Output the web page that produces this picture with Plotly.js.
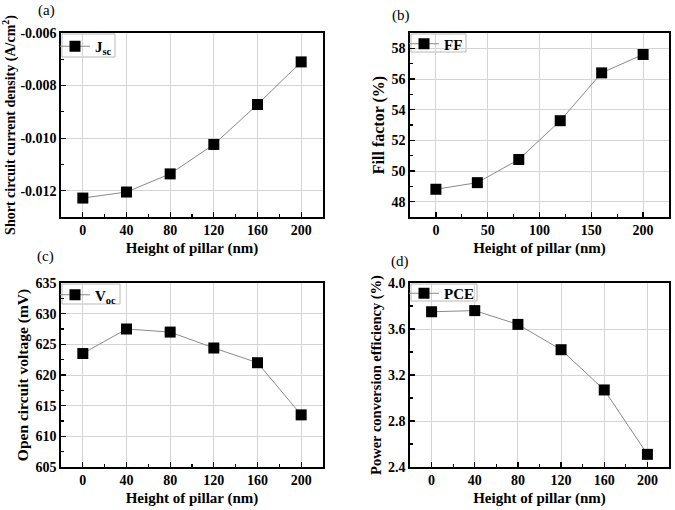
<!DOCTYPE html>
<html><head><meta charset="utf-8">
<script src="https://cdn.plot.ly/plotly-3.0.1.min.js"></script>
<style>html,body{margin:0;padding:0;background:#fff}#chart{width:675px;height:510px}</style>
</head><body><div id="chart"></div>
<script>
const heights = [0, 40, 80, 120, 160, 200];
const jsc = [-0.01228, -0.01205, -0.01136, -0.01024, -0.00872, -0.0071];
const ff = [48.81, 49.24, 50.75, 53.28, 56.4, 57.6];
const voc = [623.5, 627.5, 627.0, 624.4, 622.0, 613.5];
const pce = [3.75, 3.76, 3.64, 3.42, 3.07, 2.51];
const jscTickVals = [-0.012, -0.010, -0.008, -0.006];
const jscTickText = ['-0.012', '-0.010', '-0.008', '-0.006'];
const seriesNames = ['<b>J<sub>sc</sub></b>', '<b>FF</b>', '<b>V<sub>oc</sub></b>', '<b>PCE</b>'];
const panelLabels = ['(a)', '(b)', '(c)', '(d)'];
const xTitle = 'Height of pillar (nm)';
const yTitles = ['Short circuit current density (A/cm<sup>2</sup>)', 'Fill factor (%)', 'Open circuit voltage (mV)', 'Power conversion efficiency (%)'];

const FONT = 'Liberation Serif';
const W = 675, H = 510;
const px = v => v / W, py = v => 1 - v / H;
const boxes = [
  {x0: 61, x1: 323, y0: 33, y1: 217},
  {x0: 410, x1: 669, y0: 33, y1: 217},
  {x0: 61, x1: 323, y0: 283, y1: 467},
  {x0: 410, x1: 669, y0: 283, y1: 467}
];
const xRanges = [[-20, 220], [-25, 225], [-20, 220], [-20, 220]];
const xD = [40, 50, 40, 40];
const yRanges = [[-0.013, -0.006], [47, 59], [605, 635], [2.4, 4.0]];
const yD = [0.002, 2, 5, 0.4];
const yT0 = [-0.012, 48, 605, 2.4];
const yFmt = ['.3f', 'd', 'd', '.1f'];
const yTitleSize = [14, 16, 15.5, 14.5];
const legBox = [ {w: 53, h: 23}, {w: 55, h: 18}, {w: 58, h: 20}, {w: 66, h: 17} ];
const labelPos = [[36, 10], [390, 15.5], [35, 256], [389, 261]];
const data = [jsc, ff, voc, pce];

const traces = [];
const layout = {
  width: W, height: H, margin: {l: 0, r: 0, t: 0, b: 0},
  paper_bgcolor: '#fff', plot_bgcolor: '#fff',
  font: {family: FONT, color: '#000'},
  showlegend: true, annotations: [], shapes: []
};
data.forEach((ys, i) => {
  const n = i + 1;
  const s = n === 1 ? '' : String(n);
  const b = boxes[i];
  traces.push({
    x: heights, y: ys, type: 'scatter', mode: 'lines+markers',
    name: seriesNames[i], xaxis: 'x' + s, yaxis: 'y' + s,
    legend: 'legend' + s,
    line: {color: '#8a8a8a', width: 1},
    marker: {symbol: 'square', size: 11, color: '#000'}
  });
  const common = {
    showline: true, linecolor: '#000', linewidth: 1.6, mirror: true,
    showgrid: true, gridcolor: '#d4d4d4', gridwidth: 1,
    ticks: 'inside', ticklen: 5, tickwidth: 1.2, tickcolor: '#000',
    tickfont: {family: FONT, size: 14, weight: 'bold', color: '#000'},
    zeroline: false, fixedrange: true, layer: 'above traces'
  };
  layout['xaxis' + s] = Object.assign({}, common, {
    domain: [px(b.x0), px(b.x1)], anchor: 'y' + s,
    range: xRanges[i], dtick: xD[i], tick0: 0,
    minor: {ticks: 'inside', ticklen: 3, dtick: xD[i] / 2, tick0: 0, tickcolor: '#000', showgrid: false},
    title: {text: xTitle, font: {family: FONT, size: 15, weight: 'bold'}, standoff: 5}
  });
  const ya = Object.assign({}, common, {
    domain: [py(b.y1), py(b.y0)], anchor: 'x' + s,
    range: yRanges[i], dtick: yD[i], tick0: yT0[i], tickformat: yFmt[i],
    minor: {ticks: 'inside', ticklen: 3, dtick: yD[i] / 2, tick0: yT0[i], tickcolor: '#000', showgrid: false},
    title: {text: yTitles[i], font: {family: FONT, size: yTitleSize[i], weight: 'bold'}, standoff: 3}
  });
  if (i === 0) { ya.tickmode = 'array'; ya.tickvals = jscTickVals; ya.ticktext = jscTickText; }
  layout['yaxis' + s] = ya;
  const lb = legBox[i];
  const bl = b.x0 + 1, bt = b.y0 + 1;
  layout.shapes.push({
    type: 'rect', xref: 'paper', yref: 'paper', layer: 'between',
    x0: px(bl), x1: px(bl + lb.w), y0: py(bt + lb.h), y1: py(bt),
    fillcolor: '#fff', line: {color: '#b8b8b8', width: 1}
  });
  const markerX = bl + 13;
  const centerY = bt + lb.h / 2;
  layout['legend' + s] = {
    x: px(markerX - 20), y: py(centerY - 15.5), xanchor: 'left', yanchor: 'top',
    bgcolor: 'rgba(0,0,0,0)', borderwidth: 0,
    font: {family: FONT, size: 15, color: '#000'}, itemwidth: 30,
    tracegroupgap: 0
  };
  layout.annotations.push({
    text: panelLabels[i], xref: 'paper', yref: 'paper', x: px(labelPos[i][0]), y: py(labelPos[i][1]),
    xanchor: 'left', yanchor: 'middle', showarrow: false,
    font: {family: FONT, size: 15, color: '#000'}
  });
});
Plotly.newPlot('chart', traces, layout, {displayModeBar: false, staticPlot: true});
</script></body></html>
